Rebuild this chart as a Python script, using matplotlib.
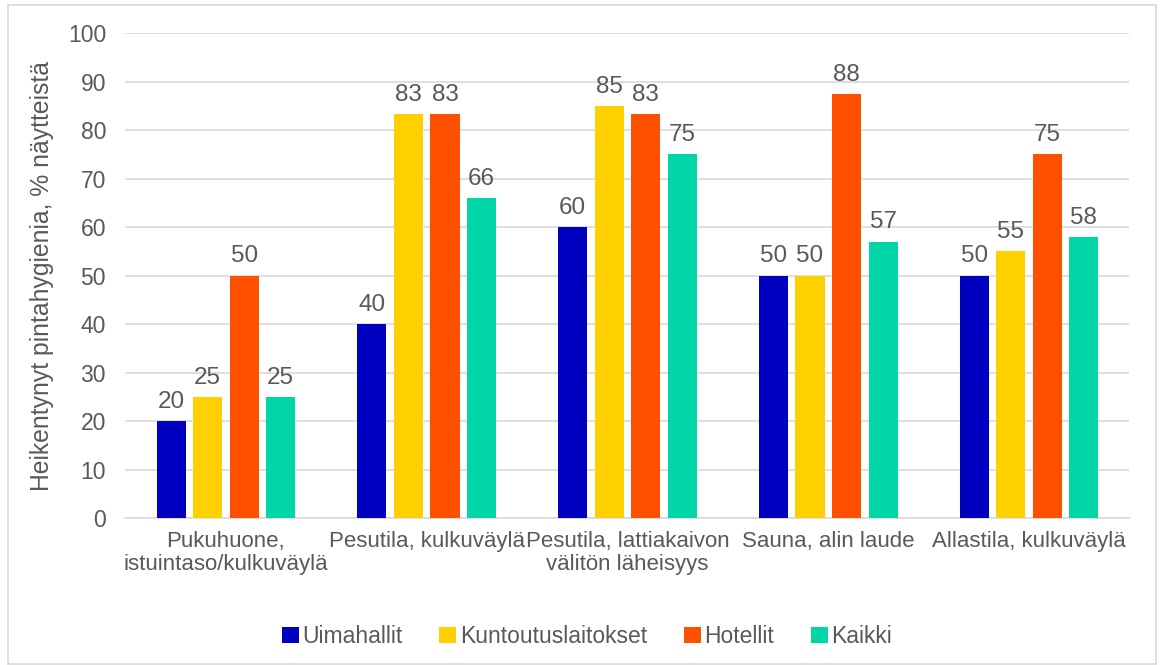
import numpy as np
import matplotlib

matplotlib.use("Agg")
import matplotlib.pyplot as plt
from matplotlib.patches import Rectangle

plt.rcParams["font.family"] = ["Liberation Sans", "DejaVu Sans"]

categories = ["Pukuhuone,\nistuintaso/kulkuväylä", "Pesutila, kulkuväylä",
              "Pesutila, lattiakaivon\nvälitön läheisyys", "Sauna, alin laude",
              "Allastila, kulkuväylä"]
series = ["Uimahallit", "Kuntoutuslaitokset", "Hotellit", "Kaikki"]
uimahallit = [20, 40, 60, 50, 50]
kuntoutus = [25, 83.3, 85, 50, 55]
hotellit = [50, 83.3, 83.3, 87.5, 75]
kaikki = [25, 66, 75, 57, 58]
colors = ["#0000C0", "#FFD000", "#FF5000", "#00D6A8"]

TXT = "#595959"

fig = plt.figure(figsize=(11.62, 6.65), dpi=100)
ax = fig.add_axes([0.108, 0.221, 0.864, 0.729])
fig.patches.append(Rectangle((0.007, 0.002), 0.988, 0.99, transform=fig.transFigure,
                             fill=False, edgecolor="#D9D9D9", lw=1.2))

x = np.arange(len(categories))
w, pitch = 0.145, 0.182
for i, (name, vals) in enumerate(zip(series, [uimahallit, kuntoutus, hotellit, kaikki])):
    pos = x + (i - 1.5) * pitch
    bars = ax.bar(pos, vals, width=w, color=colors[i], label=name, zorder=3)
    ax.bar_label(bars, labels=[f"{v:.0f}" for v in vals], padding=6,
                 fontsize=17.5, color=TXT)

ax.set_xlim(-0.5, len(categories) - 0.5)
ax.set_ylim(0, 100)
ax.set_yticks(range(0, 101, 10))
ax.yaxis.grid(True, color="#D9D9D9", lw=1.2, zorder=0)
ax.set_axisbelow(True)
for s in ["top", "right", "left"]:
    ax.spines[s].set_visible(False)
ax.spines["bottom"].set_color("#D9D9D9")
ax.spines["bottom"].set_linewidth(1.2)
ax.tick_params(axis="both", length=0, labelsize=16.5, labelcolor=TXT)
ax.tick_params(axis="y", pad=14)
ax.tick_params(axis="x", pad=9)
ax.set_xticks(x)
ax.set_xticklabels(categories, linespacing=1.15, fontsize=16)
ax.set_ylabel("Heikentynyt pintahygienia, % näytteistä", fontsize=17.8, color=TXT, labelpad=10)

leg = fig.legend(loc="center", bbox_to_anchor=(0.505, 0.043), ncol=4, frameon=False,
                 fontsize=16.5, handlelength=0.75, handleheight=0.75, handletextpad=0.15,
                 columnspacing=1.6, labelcolor=TXT)

fig.savefig("out.png", dpi=100)
